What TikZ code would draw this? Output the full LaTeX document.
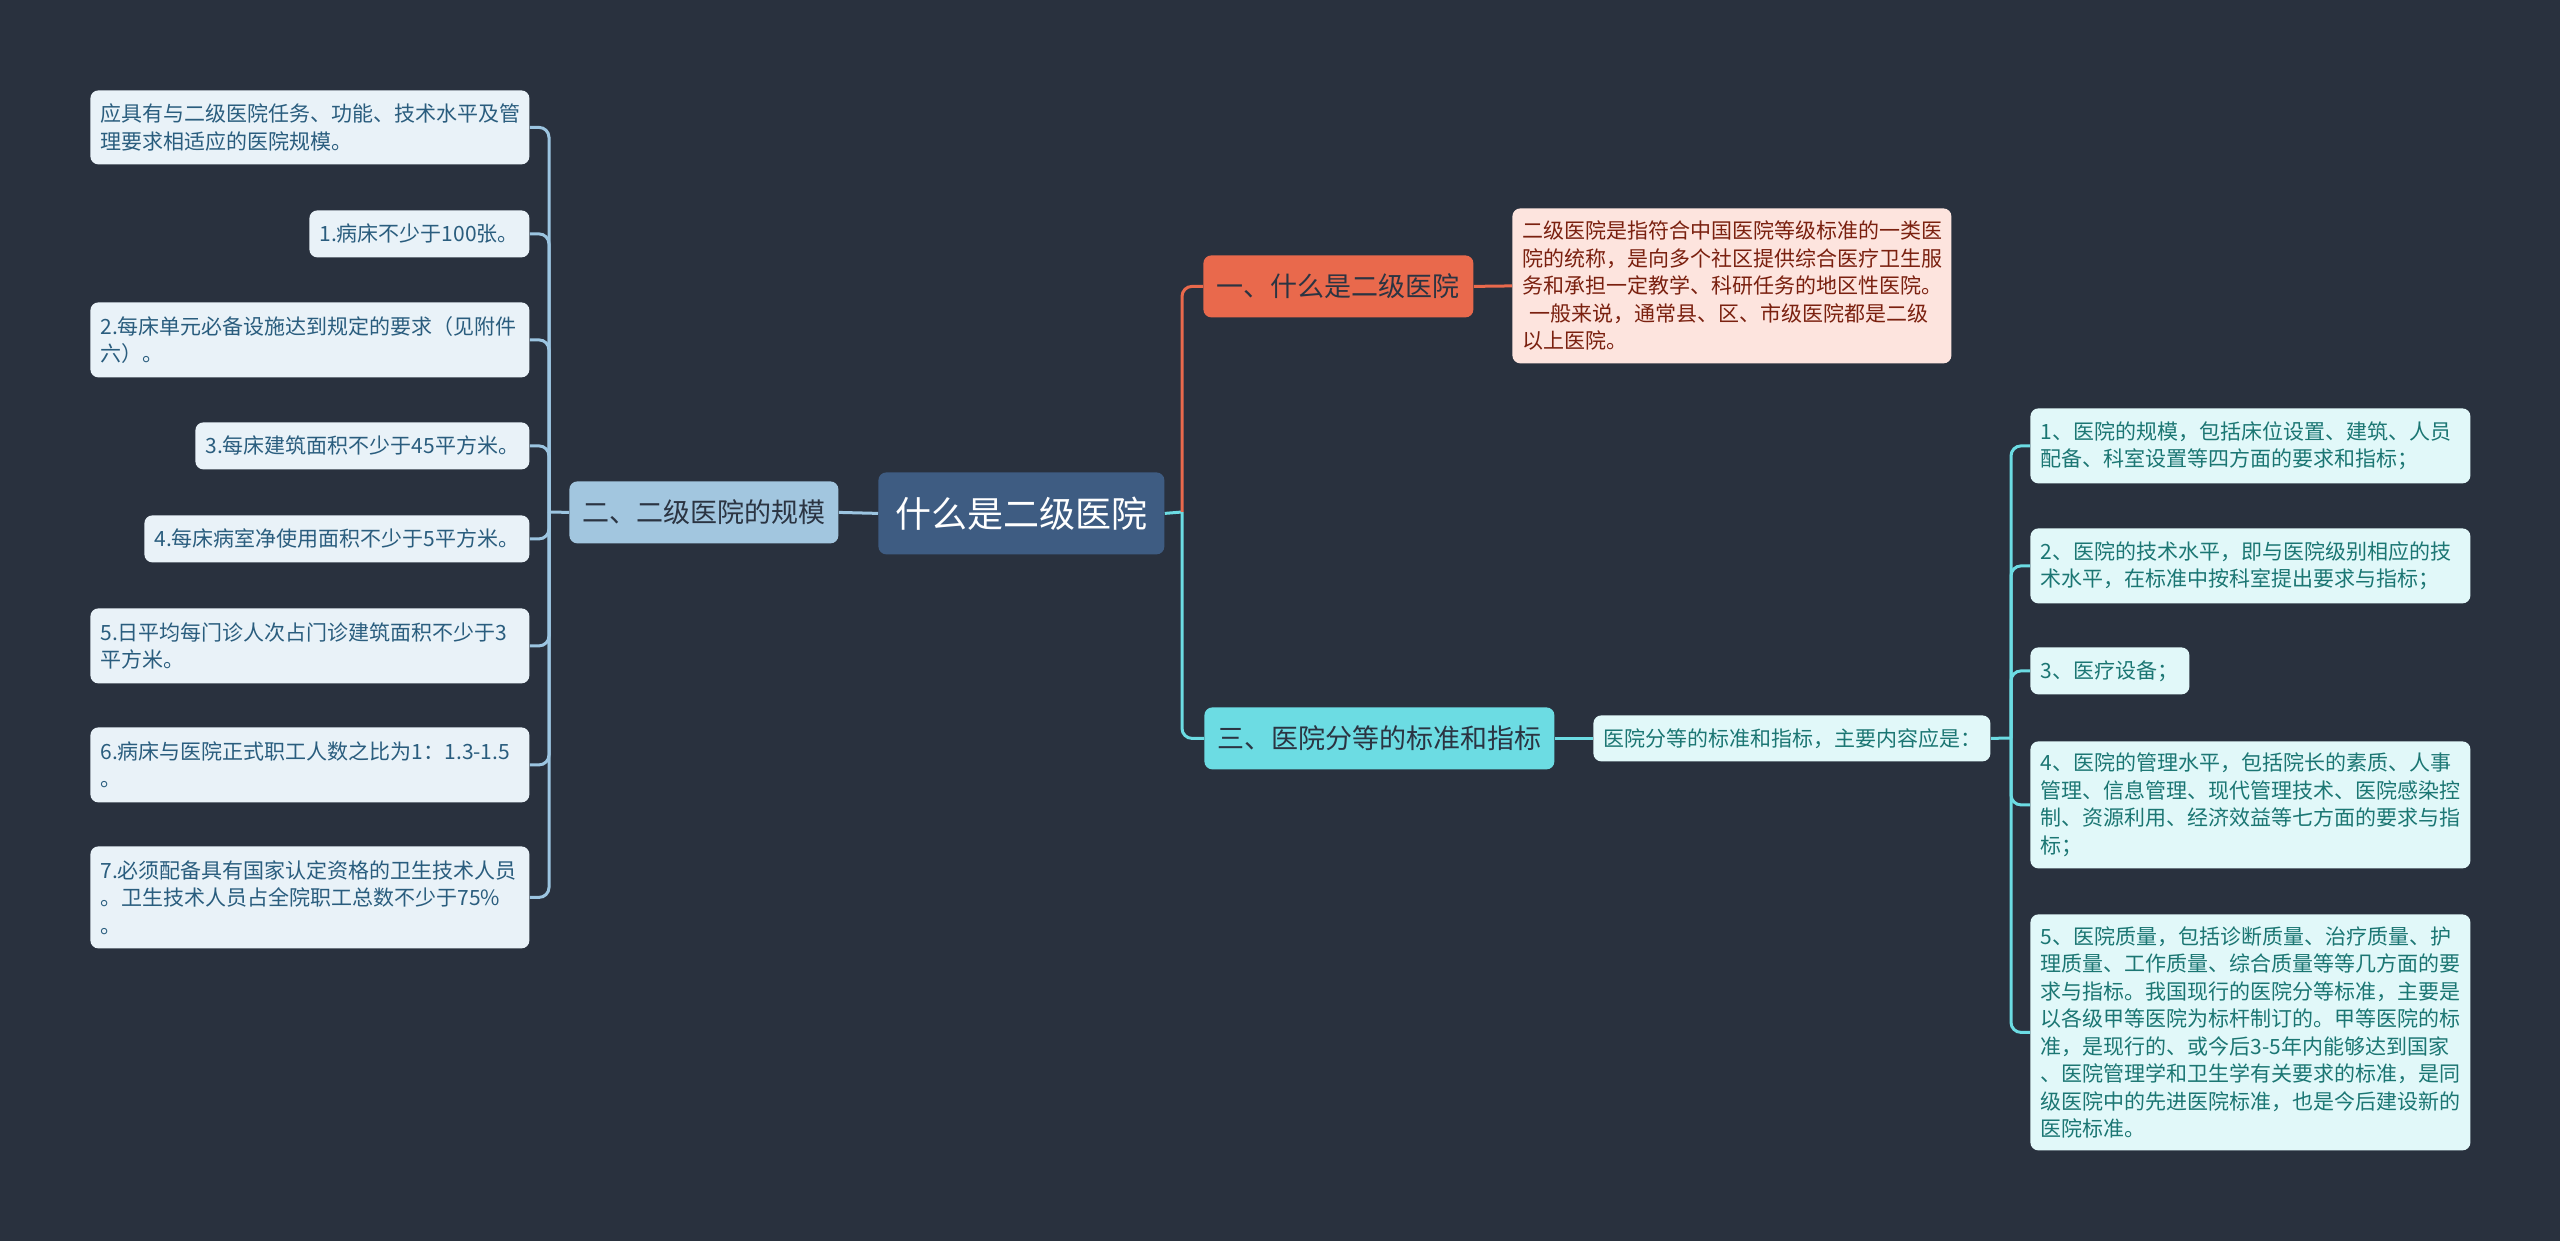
\documentclass[tikz,border=0pt]{standalone}
\usepackage{fontspec}
\setmainfont{Noto Sans CJK SC}
\definecolor{bg}{HTML}{29313E}
\definecolor{lfill}{HTML}{E9F2F8}
\definecolor{ltext}{HTML}{2A5D7E}
\definecolor{lline}{HTML}{9CC5E1}
\definecolor{btwo}{HTML}{A2C6DF}
\definecolor{darktext}{HTML}{2B3442}
\definecolor{cfill}{HTML}{3E5C82}
\definecolor{orng}{HTML}{E9694C}
\definecolor{pfill}{HTML}{FDE4DE}
\definecolor{ptext}{HTML}{7A200F}
\definecolor{cyn}{HTML}{6CDCE3}
\definecolor{cyfill}{HTML}{E1F8F9}
\definecolor{cytext}{HTML}{1B7673}
\begin{document}
\begin{tikzpicture}[x=0.5pt,y=-0.5pt]
\tikzset{
  box/.style={rounded corners=4pt, anchor=north west, inner xsep=5pt, inner ysep=0pt,
    font=\fontsize{10.5}{13.75}\selectfont, align=left},
  lbox/.style={box, fill=lfill, text=ltext},
  rbox/.style={box, fill=cyfill, text=cytext},
  big/.style={rounded corners=4pt, anchor=north west, inner sep=0pt, align=center,
    font=\fontsize{13.5}{16}\selectfont},
  wire/.style={line width=1.5pt, rounded corners=5pt}
}
\fill[bg] (0,0) rectangle (2560,1241);

% central
\node[big, fill=cfill, text=white, font=\fontsize{18}{20}\selectfont,
  minimum width=143pt, minimum height=41pt] (c) at (878,472) {什么是二级医院};

% left branch
\node[big, fill=btwo, text=darktext, minimum width=134.5pt, minimum height=31pt] (b2) at (569,481) {二、二级医院的规模};

\node[lbox, minimum width=219.5pt, text width=209.5pt, minimum height=37pt] (l0) at (90,90)
  {应具有与二级医院任务、功能、技术水平及管\\理要求相适应的医院规模。};
\node[lbox, minimum width=110pt, text width=100pt, minimum height=23.5pt] (l1) at (309,210)
  {1.病床不少于100张。};
\node[lbox, minimum width=219.5pt, text width=209.5pt, minimum height=37.5pt] (l2) at (90,302)
  {2.每床单元必备设施达到规定的要求（见附件\\六）。};
\node[lbox, minimum width=167pt, text width=157pt, minimum height=23.5pt] (l3) at (195,422)
  {3.每床建筑面积不少于45平方米。};
\node[lbox, minimum width=192.5pt, text width=182.5pt, minimum height=23.5pt] (l4) at (144,515)
  {4.每床病室净使用面积不少于5平方米。};
\node[lbox, minimum width=219.5pt, text width=209.5pt, minimum height=37.5pt] (l5) at (90,608)
  {5.日平均每门诊人次占门诊建筑面积不少于3\\平方米。};
\node[lbox, minimum width=219.5pt, text width=209.5pt, minimum height=37.5pt] (l6) at (90,727)
  {6.病床与医院正式职工人数之比为1：1.3-1.5\\。};
\node[lbox, minimum width=219.5pt, text width=209.5pt, minimum height=51pt] (l7) at (90,846)
  {7.必须配备具有国家认定资格的卫生技术人员\\。卫生技术人员占全院职工总数不少于75\%\\。};

\coordinate (lj) at (549,512);
\draw[wire, lline] (c.west) -- (b2.east);
\draw[wire, lline] (b2.west) -- (lj);
\foreach \n in {l0,l1,l2,l3,l4,l5,l6,l7}{
  \draw[wire, lline] (lj) |- (\n.east);
}

% right branches
\node[big, fill=orng, text=darktext, minimum width=135pt, minimum height=31pt] (b1) at (1203,255) {一、什么是二级医院};
\node[box, fill=pfill, text=ptext, minimum width=219.5pt, text width=209.5pt, minimum height=77.5pt] (b1c) at (1512,208)
  {二级医院是指符合中国医院等级标准的一类医\\院的统称，是向多个社区提供综合医疗卫生服\\务和承担一定教学、科研任务的地区性医院。\\\hspace*{3.5pt}一般来说，通常县、区、市级医院都是二级\\以上医院。};
\node[big, fill=cyn, text=darktext, minimum width=175pt, minimum height=31pt] (b3) at (1204,707) {三、医院分等的标准和指标};
\node[rbox, minimum width=198.5pt, text width=188.5pt, minimum height=23pt] (b3c) at (1593,715)
  {医院分等的标准和指标，主要内容应是：};

\coordinate (cj) at (1182,512);
\draw[wire, cyn] (c.east) -- (cj);
\draw[wire, orng] (cj) |- (b1.west);
\draw[wire, cyn] (cj) |- (b3.west);
\draw[wire, orng] (b1.east) -- (b1c.west);
\draw[wire, cyn] (b3.east) -- (b3c.west);

\node[rbox, minimum width=220pt, text width=210pt, minimum height=37.5pt] (r1) at (2030,408)
  {1、医院的规模，包括床位设置、建筑、人员\\配备、科室设置等四方面的要求和指标；};
\node[rbox, minimum width=220pt, text width=210pt, minimum height=37.5pt] (r2) at (2030,528)
  {2、医院的技术水平，即与医院级别相应的技\\术水平，在标准中按科室提出要求与指标；};
\node[rbox, minimum width=79.5pt, text width=69.5pt, minimum height=23.5pt] (r3) at (2030,647)
  {3、医疗设备；};
\node[rbox, minimum width=220pt, text width=210pt, minimum height=63.5pt] (r4) at (2030,741)
  {4、医院的管理水平，包括院长的素质、人事\\管理、信息管理、现代管理技术、医院感染控\\制、资源利用、经济效益等七方面的要求与指\\标；};
\node[rbox, minimum width=220pt, text width=210pt, minimum height=118pt] (r5) at (2030,914)
  {5、医院质量，包括诊断质量、治疗质量、护\\理质量、工作质量、综合质量等等几方面的要\\求与指标。我国现行的医院分等标准，主要是\\以各级甲等医院为标杆制订的。甲等医院的标\\准，是现行的、或今后3-5年内能够达到国家\\、医院管理学和卫生学有关要求的标准，是同\\级医院中的先进医院标准，也是今后建设新的\\医院标准。};

\coordinate (rj) at (2011,738);
\draw[wire, cyn] (b3c.east) -- (rj);
\foreach \n in {r1,r2,r3,r4,r5}{
  \draw[wire, cyn] (rj) |- (\n.west);
}
\end{tikzpicture}
\end{document}
